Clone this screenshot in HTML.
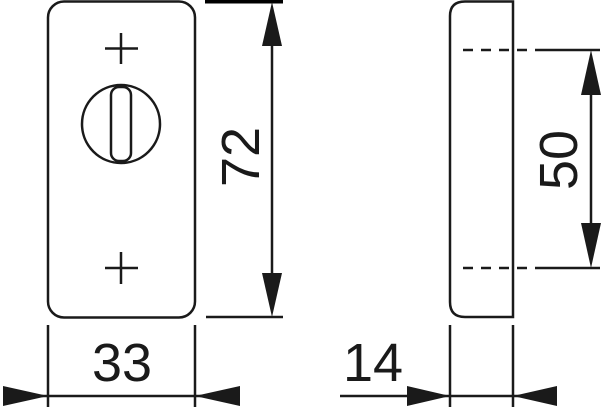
<!DOCTYPE html>
<html><head><style>html,body{margin:0;padding:0;background:#fff;}svg{display:block}</style></head><body>
<svg width="605" height="407" viewBox="0 0 605 407" xmlns="http://www.w3.org/2000/svg">
<g fill="none" stroke="#1a1a1a" stroke-width="2.5">
<rect x="48" y="1.5" width="147" height="316" rx="16"/>
<line x1="121" y1="33" x2="121" y2="64"/><line x1="105" y1="48.5" x2="138" y2="48.5"/>
<line x1="121" y1="252" x2="121" y2="284"/><line x1="105" y1="268" x2="138" y2="268"/>
<circle cx="121" cy="124" r="39"/>
<rect x="111" y="87" width="20" height="74" rx="8"/>
<line x1="206" y1="317" x2="283" y2="317"/>
<line x1="272" y1="10" x2="272" y2="310"/>
<line x1="48" y1="325" x2="48" y2="407"/><line x1="195" y1="325" x2="195" y2="407"/>
<line x1="10" y1="396" x2="235" y2="396"/>
<path d="M465 1.5 H513 V317 H465 Q450 317 450 302 V16 Q450 1.5 465 1.5 Z"/>
<line x1="463" y1="50" x2="530" y2="50" stroke-dasharray="10,8"/>
<line x1="463" y1="268" x2="530" y2="268" stroke-dasharray="10,8"/>
<line x1="535" y1="50" x2="600" y2="50"/><line x1="535" y1="268" x2="600" y2="268"/>
<line x1="591" y1="60" x2="591" y2="260"/>
<line x1="450" y1="325" x2="450" y2="407"/><line x1="513" y1="325" x2="513" y2="407"/>
<line x1="340" y1="396" x2="555" y2="396"/>
</g>
<line x1="205" y1="1.5" x2="283" y2="1.5" stroke="#000" stroke-width="4"/>
<g fill="#1a1a1a">
<polygon points="272,2 262,46 282,46"/><polygon points="272,317 262,273 282,273"/>
<polygon points="3,386 48,396 3,406"/><polygon points="240,386 195,396 240,406"/>
<polygon points="591,50 581,95 601,95"/><polygon points="591,268 581,223 601,223"/>
<polygon points="407,386 450,396 407,406"/><polygon points="557,386 513,396 557,406"/>
</g>
<g font-family="Liberation Sans, sans-serif" font-size="54" fill="#1a1a1a" text-anchor="middle">
<text x="122" y="381">33</text>
<text x="373" y="381">14</text>
<text transform="translate(259,157) rotate(-90)">72</text>
<text transform="translate(577,160) rotate(-90)">50</text>
</g>
</svg>
</body></html>
